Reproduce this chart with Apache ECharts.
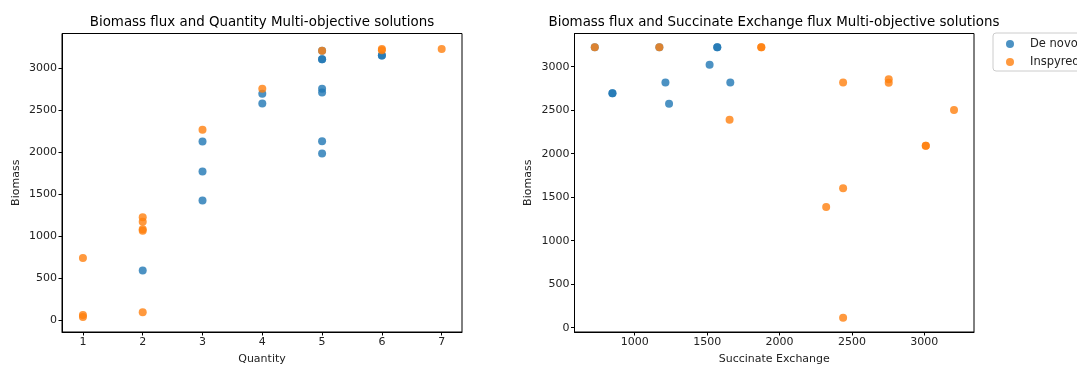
<!DOCTYPE html>
<html>
<head>
<meta charset="utf-8">
<script src="https://cdn.jsdelivr.net/npm/echarts@6/dist/echarts.min.js"></script>
<style>
  html, body { margin: 0; padding: 0; background: #fff; }
  #chart { width: 1077px; height: 365px; }
</style>
</head>
<body>
<div id="chart"></div>
<script>
// left plot: Biomass vs Quantity
const quantityDeNovo = [
  [2, 589], [3, 2128], [3, 1770], [3, 1424], [4, 2697], [4, 2582],
  [5, 3211], [5, 3111], [5, 3111], [5, 2757], [5, 2713], [5, 2133], [5, 1985],
  [6, 3155], [6, 3155]
];
const quantityInspyred = [
  [1, 740], [1, 60], [1, 35], [2, 1225], [2, 1173], [2, 1082], [2, 1066], [2, 92],
  [3, 2268], [4, 2757], [5, 3211], [6, 3231], [6, 3218], [7, 3231]
];

// right plot: Biomass vs Succinate Exchange
const succinateDeNovo = [
  [724, 3225], [846, 2694], [846, 2694], [1170, 3225], [1212, 2820], [1237, 2575],
  [1517, 3023], [1570, 3225], [1570, 3225], [1660, 2820]
];
const succinateInspyred = [
  [724, 3225], [1170, 3225], [1655, 2391], [1874, 3225], [1874, 3225],
  [2439, 2820], [2754, 2855], [2754, 2816], [3205, 2502], [3010, 2092], [3010, 2092],
  [2439, 1602], [2322, 1387], [2439, 115]
];

const quantityTicks = [1, 2, 3, 4, 5, 6, 7];
const succinateTicks = [1000, 1500, 2000, 2500, 3000];
const biomassTicks = [0, 500, 1000, 1500, 2000, 2500, 3000];

const FONT = 'DejaVu Sans';
const BLUE = '#1f77b4';
const ORANGE = '#ff7f0e';

const chart = echarts.init(document.getElementById('chart'), null, { renderer: 'canvas' });

function valueAxis(gridIndex, min, max, ticks, name, gap) {
  return {
    type: 'value',
    gridIndex,
    min,
    max,
    name,
    nameLocation: 'middle',
    nameGap: gap,
    nameTextStyle: { fontFamily: FONT, fontSize: 11, color: '#222' },
    axisLine: { show: true, onZero: false, lineStyle: { color: '#000', width: 1 } },
    axisTick: { show: true, inside: false, length: 3.5, lineStyle: { color: '#000' }, customValues: ticks },
    axisLabel: {
      fontFamily: FONT, fontSize: 11, color: '#222', margin: 5, customValues: ticks,
      formatter: (v) => String(v)
    },
    splitLine: { show: false }
  };
}

function scatter(name, data, color, idx) {
  return {
    name,
    type: 'scatter',
    xAxisIndex: idx,
    yAxisIndex: idx,
    data,
    symbolSize: 8,
    itemStyle: { color, opacity: 0.8 },
    emphasis: { disabled: true }
  };
}

const titleStyle = { fontFamily: FONT, fontSize: 13.4, fontWeight: 'normal', color: '#000' };

chart.setOption({
  animation: false,
  backgroundColor: '#fff',
  title: [
    { text: 'Biomass flux and Quantity Multi-objective solutions', left: 262, top: 16, textAlign: 'center', padding: 0, textStyle: titleStyle },
    { text: 'Biomass flux and Succinate Exchange flux Multi-objective solutions', left: 774, top: 16, textAlign: 'center', padding: 0, textStyle: titleStyle }
  ],
  legend: {
    data: ['De novo', 'Inspyred'],
    orient: 'vertical',
    left: 993,
    top: 33,
    padding: [5, 10, 3, 13],
    itemGap: 6,
    itemWidth: 8,
    itemHeight: 8,
    icon: 'circle',
    backgroundColor: '#fff',
    borderColor: '#cccccc',
    borderWidth: 1,
    borderRadius: 3,
    textStyle: { fontFamily: FONT, fontSize: 11.5, color: '#222', lineHeight: 12, padding: [0, 0, 0, 11] }
  },
  grid: [
    { left: 62, top: 33.5, width: 400, height: 298.5, outerBoundsMode: 'none', containLabel: false, show: true, borderColor: '#000', borderWidth: 1, backgroundColor: 'transparent' },
    { left: 574.5, top: 33.5, width: 399.5, height: 298.5, outerBoundsMode: 'none', containLabel: false, show: true, borderColor: '#000', borderWidth: 1, backgroundColor: 'transparent' }
  ],
  xAxis: [
    valueAxis(0, 0.65, 7.34, quantityTicks, 'Quantity', 22),
    valueAxis(1, 584, 3343, succinateTicks, 'Succinate Exchange', 22)
  ],
  yAxis: [
    valueAxis(0, -143, 3417, biomassTicks, 'Biomass', 40),
    valueAxis(1, -49, 3382, biomassTicks, 'Biomass', 41)
  ],
  series: [
    scatter('De novo', quantityDeNovo, BLUE, 0),
    scatter('Inspyred', quantityInspyred, ORANGE, 0),
    scatter('De novo', succinateDeNovo, BLUE, 1),
    scatter('Inspyred', succinateInspyred, ORANGE, 1)
  ]
});
</script>
</body>
</html>
